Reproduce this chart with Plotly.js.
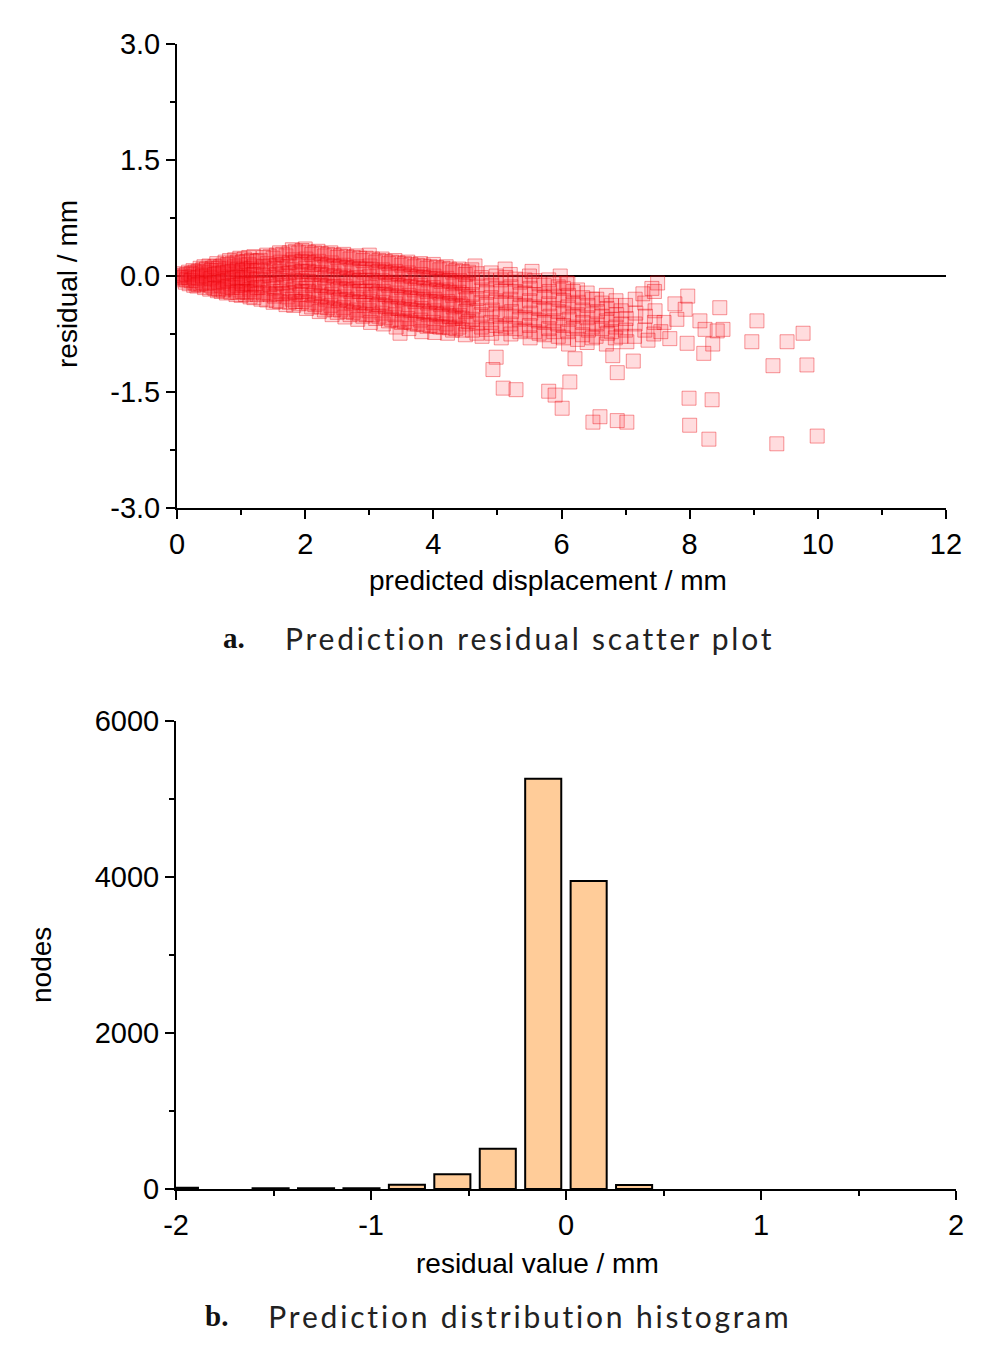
<!DOCTYPE html>
<html>
<head>
<meta charset="utf-8">
<script src="https://cdn.plot.ly/plotly-3.0.1.min.js"></script>
<style>
  body { margin: 0; background: #fff; }
  #chart { width: 994px; height: 1355px; }
  /* the printed captions are set with wide tracking */
  g.annotation[data-index="1"] text, g.annotation[data-index="3"] text { letter-spacing: 2.8px; }
</style>
</head>
<body>
<div id="chart"></div>
<script>
// (a) residual scatter, points as [predicted, residual]
var originCloud = [
  [0.02,0.0],[0.03,-0.03],[0.08,0.03],[0.08,-0.05],[0.12,-0.01],[0.13,-0.08],[0.18,0.05],[0.18,-0.02],
  [0.19,-0.1],[0.25,0.07],[0.25,0.0],[0.26,-0.12],[0.3,0.03],[0.3,-0.06],[0.31,-0.13],[0.36,0.1],
  [0.36,0.02],[0.37,-0.1],[0.42,0.12],[0.42,0.05],[0.43,-0.04],[0.43,-0.15],[0.5,0.13],[0.5,0.04],
  [0.51,-0.08],[0.51,-0.17],[0.55,0.1],[0.56,-0.02],[0.56,-0.14],[0.62,0.16],[0.62,0.07],[0.63,-0.05],
  [0.63,-0.19],[0.68,0.12],[0.68,0.0],[0.69,-0.12],[0.69,-0.2],[0.75,0.18],[0.75,0.08],[0.76,-0.03],
  [0.76,-0.16],[0.77,-0.22],[0.82,0.2],[0.82,0.1],[0.83,-0.01],[0.83,-0.1],[0.84,-0.21],[0.9,0.21],
  [0.9,0.12],[0.91,0.02],[0.91,-0.08],[0.92,-0.18],[0.92,-0.24],[0.98,0.23],[0.98,0.14],[0.99,0.04],
  [0.99,-0.06],[1.0,-0.15],[1.0,-0.25],[1.05,0.22],[1.05,0.1],[1.06,-0.02],[1.06,-0.12],[1.07,-0.24],
  [1.12,0.24],[1.12,0.15],[1.13,0.05],[1.13,-0.05],[1.14,-0.17],[1.14,-0.27]
];

var originFill = [
  [0.05,0.01],[0.05,-0.02],[0.15,0.02],[0.15,-0.05],[0.22,0.03],[0.22,-0.06],[0.28,0.05],[0.28,-0.03],
  [0.28,-0.09],[0.33,0.06],[0.33,-0.02],[0.33,-0.11],[0.4,0.08],[0.4,0.0],[0.4,-0.08],[0.46,0.09],
  [0.46,0.0],[0.46,-0.1],[0.53,0.07],[0.53,-0.03],[0.53,-0.12],[0.59,0.12],[0.59,0.02],[0.59,-0.09],
  [0.59,-0.16],[0.65,0.1],[0.65,0.03],[0.65,-0.08],[0.65,-0.17],[0.72,0.14],[0.72,0.04],[0.72,-0.07],
  [0.72,-0.18],[0.79,0.15],[0.79,0.05],[0.79,-0.06],[0.79,-0.14],[0.86,0.16],[0.86,0.06],[0.86,-0.04],
  [0.86,-0.15],[0.94,0.18],[0.94,0.08],[0.94,-0.02],[0.94,-0.12],[0.94,-0.21],[1.02,0.18],[1.02,0.07],
  [1.02,-0.04],[1.02,-0.1],[1.02,-0.2],[1.09,0.19],[1.09,0.08],[1.09,-0.02],[1.09,-0.1],[1.09,-0.21],
  [1.16,0.2],[1.16,0.1],[1.16,0.0],[1.16,-0.11],[1.16,-0.22]
];

var mainBand = [
  [1.2,0.25],[1.21,0.13],[1.2,0.02],[1.22,-0.1],[1.21,-0.2],[1.2,-0.28],
  [1.3,0.2],[1.31,0.08],[1.3,-0.04],[1.32,-0.15],[1.31,-0.3],
  [1.4,0.27],[1.41,0.16],[1.4,0.04],[1.42,-0.08],[1.41,-0.22],[1.4,-0.31],
  [1.5,0.23],[1.52,0.1],[1.5,-0.02],[1.51,-0.14],[1.52,-0.26],[1.5,-0.34],
  [1.6,0.3],[1.61,0.18],[1.6,0.06],[1.62,-0.06],[1.61,-0.2],[1.6,-0.33],
  [1.7,0.26],[1.72,0.12],[1.7,0.0],[1.71,-0.12],[1.72,-0.27],[1.7,-0.37],
  [1.8,0.34],[1.81,0.21],[1.8,0.08],[1.82,-0.05],[1.81,-0.18],[1.8,-0.3],[1.82,-0.38],
  [1.9,0.3],[1.92,0.15],[1.9,0.02],[1.91,-0.1],[1.92,-0.24],[1.9,-0.36],
  [2.0,0.35],[2.01,0.22],[2.0,0.1],[2.02,-0.03],[2.01,-0.16],[2.0,-0.3],[2.02,-0.42],
  [2.1,0.28],[2.12,0.15],[2.1,0.02],[2.11,-0.12],[2.12,-0.25],[2.1,-0.4],
  [2.2,0.32],[2.21,0.19],[2.2,0.05],[2.22,-0.08],[2.21,-0.21],[2.2,-0.35],[2.22,-0.46],
  [2.3,0.26],[2.32,0.12],[2.3,-0.02],[2.31,-0.15],[2.32,-0.3],[2.3,-0.44],
  [2.4,0.3],[2.41,0.17],[2.4,0.04],[2.42,-0.1],[2.41,-0.24],[2.4,-0.38],[2.42,-0.5],
  [2.5,0.24],[2.52,0.1],[2.5,-0.04],[2.51,-0.18],[2.52,-0.32],[2.5,-0.47],
  [2.6,0.28],[2.61,0.14],[2.6,0.0],[2.62,-0.13],[2.61,-0.27],[2.6,-0.41],[2.62,-0.53],
  [2.7,0.22],[2.72,0.08],[2.7,-0.06],[2.71,-0.2],[2.72,-0.35],[2.7,-0.5],
  [2.8,0.26],[2.81,0.12],[2.8,-0.02],[2.82,-0.16],[2.81,-0.3],[2.8,-0.44],[2.82,-0.56],
  [2.9,0.2],[2.92,0.05],[2.9,-0.1],[2.91,-0.24],[2.92,-0.38],[2.9,-0.52],
  [3.0,0.27],[3.01,0.13],[3.0,-0.01],[3.02,-0.15],[3.01,-0.3],[3.0,-0.45],[3.02,-0.6],
  [3.1,0.18],[3.12,0.04],[3.1,-0.1],[3.11,-0.24],[3.12,-0.39],[3.1,-0.55],
  [3.2,0.22],[3.21,0.08],[3.2,-0.06],[3.22,-0.2],[3.21,-0.34],[3.2,-0.48],[3.22,-0.62],
  [3.3,0.16],[3.32,0.02],[3.3,-0.12],[3.31,-0.27],[3.32,-0.42],[3.3,-0.58],
  [3.4,0.2],[3.41,0.06],[3.4,-0.08],[3.42,-0.22],[3.41,-0.36],[3.4,-0.5],[3.42,-0.66],
  [3.5,0.14],[3.52,0.0],[3.5,-0.15],[3.51,-0.3],[3.52,-0.45],[3.5,-0.6],[3.48,-0.74],
  [3.6,0.18],[3.61,0.04],[3.6,-0.1],[3.62,-0.25],[3.61,-0.4],[3.6,-0.55],[3.62,-0.68],
  [3.7,0.12],[3.72,-0.03],[3.7,-0.18],[3.71,-0.33],[3.72,-0.48],[3.7,-0.62],
  [3.8,0.16],[3.81,0.02],[3.8,-0.12],[3.82,-0.27],[3.81,-0.42],[3.8,-0.57],[3.82,-0.72],
  [3.9,0.1],[3.92,-0.05],[3.9,-0.2],[3.91,-0.35],[3.92,-0.5],[3.9,-0.65],
  [4.0,0.15],[4.01,0.0],[4.0,-0.15],[4.02,-0.3],[4.01,-0.45],[4.0,-0.6],[4.02,-0.73],
  [4.1,0.08],[4.12,-0.07],[4.1,-0.22],[4.11,-0.37],[4.12,-0.52],[4.1,-0.66],
  [4.2,0.12],[4.21,-0.03],[4.2,-0.18],[4.22,-0.33],[4.21,-0.48],[4.2,-0.62],[4.22,-0.74],
  [4.3,0.05],[4.32,-0.1],[4.3,-0.25],[4.31,-0.4],[4.32,-0.55],[4.3,-0.7],
  [4.4,0.09],[4.41,-0.06],[4.4,-0.21],[4.42,-0.36],[4.41,-0.51],[4.4,-0.66]
];

var bandFill = [
  [1.25,0.19],[1.25,0.07],[1.25,-0.04],[1.25,-0.15],[1.25,-0.24],
  [1.35,0.24],[1.35,0.12],[1.35,0.0],[1.35,-0.1],[1.35,-0.22],
  [1.45,0.25],[1.45,0.13],[1.45,0.01],[1.45,-0.11],[1.45,-0.24],
  [1.55,0.27],[1.55,0.14],[1.55,0.02],[1.55,-0.1],[1.55,-0.23],[1.55,-0.32],
  [1.65,0.28],[1.65,0.15],[1.65,0.03],[1.65,-0.09],[1.65,-0.23],
  [1.75,0.3],[1.75,0.17],[1.75,0.04],[1.75,-0.08],[1.75,-0.22],[1.75,-0.34],
  [1.85,0.32],[1.85,0.18],[1.85,0.05],[1.85,-0.07],[1.85,-0.21],[1.85,-0.33],
  [1.95,0.33],[1.95,0.19],[1.95,0.06],[1.95,-0.06],[1.95,-0.2],[1.95,-0.33],
  [2.05,0.31],[2.05,0.18],[2.05,0.06],[2.05,-0.07],[2.05,-0.2],[2.05,-0.35],
  [2.15,0.3],[2.15,0.17],[2.15,0.04],[2.15,-0.1],[2.15,-0.23],[2.15,-0.37],
  [2.25,0.29],[2.25,0.15],[2.25,0.02],[2.25,-0.12],[2.25,-0.26],[2.25,-0.4],
  [2.35,0.28],[2.35,0.14],[2.35,0.01],[2.35,-0.13],[2.35,-0.27],[2.35,-0.41],
  [2.45,0.27],[2.45,0.13],[2.45,0.0],[2.45,-0.14],[2.45,-0.28],[2.45,-0.43],
  [2.55,0.26],[2.55,0.12],[2.55,-0.02],[2.55,-0.16],[2.55,-0.3],[2.55,-0.44],
  [2.65,0.25],[2.65,0.11],[2.65,-0.03],[2.65,-0.17],[2.65,-0.31],[2.65,-0.46],
  [2.75,0.24],[2.75,0.1],[2.75,-0.04],[2.75,-0.18],[2.75,-0.33],[2.75,-0.47],
  [2.85,0.23],[2.85,0.09],[2.85,-0.06],[2.85,-0.2],[2.85,-0.34],[2.85,-0.49],
  [2.95,0.23],[2.95,0.09],[2.95,-0.06],[2.95,-0.2],[2.95,-0.35],[2.95,-0.5],
  [3.05,0.22],[3.05,0.08],[3.05,-0.06],[3.05,-0.2],[3.05,-0.35],[3.05,-0.5],
  [3.15,0.2],[3.15,0.06],[3.15,-0.08],[3.15,-0.22],[3.15,-0.37],[3.15,-0.52],
  [3.25,0.19],[3.25,0.05],[3.25,-0.09],[3.25,-0.24],[3.25,-0.39],[3.25,-0.54],
  [3.35,0.18],[3.35,0.04],[3.35,-0.1],[3.35,-0.25],[3.35,-0.4],[3.35,-0.56],
  [3.45,0.17],[3.45,0.03],[3.45,-0.12],[3.45,-0.27],[3.45,-0.42],[3.45,-0.58],
  [3.55,0.16],[3.55,0.02],[3.55,-0.13],[3.55,-0.28],[3.55,-0.43],[3.55,-0.59],
  [3.65,0.15],[3.65,0.0],[3.65,-0.14],[3.65,-0.29],[3.65,-0.44],[3.65,-0.6],
  [3.75,0.14],[3.75,-0.01],[3.75,-0.15],[3.75,-0.3],[3.75,-0.45],[3.75,-0.62],
  [3.85,0.13],[3.85,-0.02],[3.85,-0.16],[3.85,-0.31],[3.85,-0.46],[3.85,-0.63],
  [3.95,0.12],[3.95,-0.03],[3.95,-0.18],[3.95,-0.33],[3.95,-0.48],[3.95,-0.64],
  [4.05,0.11],[4.05,-0.04],[4.05,-0.19],[4.05,-0.34],[4.05,-0.49],[4.05,-0.65],
  [4.15,0.1],[4.15,-0.05],[4.15,-0.2],[4.15,-0.35],[4.15,-0.5],[4.15,-0.66],
  [4.25,0.09],[4.25,-0.06],[4.25,-0.21],[4.25,-0.36],[4.25,-0.52],[4.25,-0.67],
  [4.35,0.07],[4.35,-0.08],[4.35,-0.23],[4.35,-0.38],[4.35,-0.53],[4.35,-0.68],
  [4.45,0.06],[4.45,-0.09],[4.45,-0.24],[4.45,-0.39],[4.45,-0.55],[4.45,-0.7]
];

var tailBand = [
  [4.5,0.02],[4.5,-0.14],[4.52,-0.3],[4.5,-0.46],[4.51,-0.62],[4.5,-0.76],
  [4.6,0.08],[4.61,-0.08],[4.6,-0.24],[4.62,-0.4],[4.6,-0.56],[4.61,-0.7],
  [4.75,-0.02],[4.76,-0.18],[4.75,-0.34],[4.74,-0.5],[4.75,-0.66],[4.76,-0.78],
  [4.9,0.04],[4.91,-0.12],[4.9,-0.28],[4.92,-0.44],[4.9,-0.6],[4.91,-0.74],
  [5.05,-0.05],[5.06,-0.2],[5.05,-0.36],[5.04,-0.52],[5.05,-0.68],[5.06,-0.8],
  [5.2,0.02],[5.21,-0.14],[5.2,-0.3],[5.22,-0.46],[5.2,-0.62],[5.21,-0.75],
  [5.35,-0.08],[5.36,-0.24],[5.35,-0.4],[5.34,-0.56],[5.35,-0.72],
  [5.5,0.0],[5.51,-0.16],[5.5,-0.32],[5.52,-0.48],[5.5,-0.64],[5.51,-0.8],
  [5.65,-0.1],[5.66,-0.26],[5.65,-0.42],[5.64,-0.58],[5.65,-0.74],
  [5.8,-0.05],[5.81,-0.2],[5.8,-0.36],[5.82,-0.52],[5.8,-0.68],[5.81,-0.84],
  [5.95,-0.14],[5.96,-0.3],[5.95,-0.46],[5.94,-0.62],[5.95,-0.78],
  [6.1,-0.1],[6.11,-0.25],[6.1,-0.4],[6.12,-0.56],[6.1,-0.72],[6.11,-0.88],
  [6.25,-0.18],[6.26,-0.34],[6.25,-0.5],[6.24,-0.66],[6.25,-0.82],
  [6.4,-0.22],[6.41,-0.38],[6.4,-0.54],[6.42,-0.7],[6.4,-0.86],
  [6.55,-0.3],[6.56,-0.46],[6.55,-0.62],[6.54,-0.78],
  [6.7,-0.25],[6.71,-0.42],[6.7,-0.58],[6.72,-0.74],[6.7,-0.88],
  [6.85,-0.32],[6.86,-0.5],[6.85,-0.66],[6.84,-0.8],
  [7.0,-0.38],[7.01,-0.55],[7.0,-0.7],[7.02,-0.85],
  [7.15,-0.3],[7.16,-0.48],[7.15,-0.62],[7.14,-0.78],
  [7.3,-0.35],[7.31,-0.52],[7.3,-0.7],
  [7.45,-0.2],[7.46,-0.45],[7.45,-0.6],[7.44,-0.75]
];

var tailFill = [
  [4.55,0.05],[4.55,-0.11],[4.55,-0.27],[4.55,-0.43],[4.55,-0.59],
  [4.68,0.03],[4.68,-0.13],[4.68,-0.29],[4.68,-0.45],[4.68,-0.61],[4.68,-0.74],
  [4.83,-0.05],[4.83,-0.21],[4.83,-0.37],[4.83,-0.53],[4.83,-0.69],
  [4.98,0.0],[4.98,-0.16],[4.98,-0.32],[4.98,-0.48],[4.98,-0.64],
  [5.13,-0.02],[5.13,-0.18],[5.13,-0.34],[5.13,-0.5],[5.13,-0.66],
  [5.28,-0.04],[5.28,-0.2],[5.28,-0.36],[5.28,-0.52],[5.28,-0.68],
  [5.43,-0.05],[5.43,-0.22],[5.43,-0.38],[5.43,-0.54],[5.43,-0.7],
  [5.58,-0.06],[5.58,-0.24],[5.58,-0.4],[5.58,-0.56],[5.58,-0.72],
  [5.73,-0.12],[5.73,-0.28],[5.73,-0.44],[5.73,-0.6],[5.73,-0.76],
  [5.88,-0.1],[5.88,-0.26],[5.88,-0.42],[5.88,-0.58],[5.88,-0.72],
  [6.03,-0.16],[6.03,-0.32],[6.03,-0.48],[6.03,-0.64],[6.03,-0.8],
  [6.18,-0.2],[6.18,-0.36],[6.18,-0.52],[6.18,-0.68],
  [6.33,-0.28],[6.33,-0.44],[6.33,-0.6],[6.33,-0.76],
  [6.48,-0.3],[6.48,-0.5],[6.48,-0.66],[6.48,-0.8],
  [6.63,-0.35],[6.63,-0.52],[6.63,-0.68],
  [6.78,-0.38],[6.78,-0.56],[6.78,-0.72],
  [6.93,-0.45],[6.93,-0.62],[6.93,-0.78]
];

var sparsePoints = [
  [7.5,-0.09],[7.41,-0.16],[7.27,-0.23],[7.69,-0.81],[7.96,-0.87],[7.77,-0.36],[7.93,-0.43],[7.8,-0.56],
  [7.97,-0.26],[8.16,-0.58],[8.24,-0.69],[8.43,-0.71],[8.47,-0.41],[8.52,-0.69],[8.36,-0.88],[8.22,-1.0],
  [8.97,-0.85],[9.05,-0.58],[9.52,-0.85],[9.77,-0.74],[9.3,-1.16],[9.83,-1.15],[5.98,0.0],[6.08,-0.09],
  [5.12,0.09],[5.54,0.06],[4.65,0.13],[7.6,-0.6],[7.55,-0.72],[7.35,-0.83]
];

var outliers = [
  [4.98,-1.05],[4.93,-1.21],[5.09,-1.45],[5.29,-1.47],[5.8,-1.49],[5.9,-1.54],[6.01,-1.71],[6.13,-1.37],
  [6.21,-1.07],[6.49,-1.89],[6.6,-1.82],[6.87,-1.87],[7.02,-1.89],[6.87,-1.25],[7.12,-1.1],[6.8,-1.03],
  [7.99,-1.58],[8.35,-1.6],[8.0,-1.93],[8.3,-2.11],[9.36,-2.17],[9.99,-2.07]
];

// (b) histogram of residuals
var binCenters = [-1.98, -1.515, -1.282, -1.049, -0.816, -0.583, -0.35, -0.117, 0.116, 0.349];
var nodeCounts = [15, 10, 10, 10, 55, 190, 515, 5260, 3950, 50];

var scatterTicks = [0, 2, 4, 6, 8, 10, 12];
var residualTicks = [3, 1.5, 0, -1.5, -3];
var residualLabels = ['3.0', '1.5', '0.0', '-1.5', '-3.0'];
var histTicks = [-2, -1, 0, 1, 2];
var histLabels = ['-2', '-1', '0', '1', '2'];
var nodeTicks = [0, 2000, 4000, 6000];

var allPoints = originCloud.concat(originFill, mainBand, bandFill, tailBand, tailFill, sparsePoints, outliers);

var numFont = 'Liberation Sans, Arial, sans-serif';
var tickFont = {family: numFont, size: 29, color: '#000'};
var titleFont = {family: numFont, size: 28, color: '#000'};

var scatterTrace = {
    x: allPoints.map(function (p) { return p[0]; }),
    y: allPoints.map(function (p) { return p[1]; }),
    xaxis: 'x',
    yaxis: 'y',
    type: 'scatter',
    mode: 'markers',
    marker: {
        symbol: 'square',
        size: 14,
        color: 'rgba(255, 50, 60, 0.17)',
        line: {color: 'rgba(235, 0, 10, 0.4)', width: 1}
    },
    hoverinfo: 'skip'
};

var histTrace = {
    x: binCenters,
    y: nodeCounts,
    xaxis: 'x2',
    yaxis: 'y2',
    type: 'bar',
    width: 0.185,
    marker: {color: 'rgb(255, 204, 153)', line: {color: '#000', width: 2}},
    hoverinfo: 'skip'
};

function axisStyle(extra) {
    var base = {
        showgrid: false,
        showline: true,
        linecolor: '#000',
        linewidth: 2,
        ticks: 'outside',
        ticklen: 9,
        tickwidth: 2,
        tickcolor: '#000',
        tickfont: tickFont,
        zeroline: false
    };
    for (var k in extra) base[k] = extra[k];
    return base;
}

function paperText(text, px, py, font, opts) {
    var a = {xref: 'paper', yref: 'paper', x: px / 994, y: 1 - py / 1355,
             xanchor: 'center', yanchor: 'middle', text: text, showarrow: false, font: font};
    for (var k in opts) a[k] = opts[k];
    return a;
}

var boldSerif = {family: 'Liberation Serif, serif', size: 29, color: '#111'};
var captionFont = {family: 'Lato, sans-serif', size: 30, color: '#222'};

var layout = {
    width: 994,
    height: 1355,
    margin: {l: 0, r: 0, t: 0, b: 0},
    paper_bgcolor: '#fff',
    plot_bgcolor: 'rgba(0,0,0,0)',
    showlegend: false,
    xaxis: axisStyle({
        domain: [0.1781, 0.9517], anchor: 'y', range: [0, 12],
        tickvals: scatterTicks, ticktext: scatterTicks.map(String),
        minor: {ticks: 'outside', ticklen: 5, tickwidth: 2, tickcolor: '#000', dtick: 1}
    }),
    yaxis: axisStyle({
        domain: [0.6251, 0.9675], anchor: 'x', range: [-3, 3],
        tickvals: residualTicks, ticktext: residualLabels,
        minor: {ticks: 'outside', ticklen: 5, tickwidth: 2, tickcolor: '#000', dtick: 0.75},
        zeroline: true, zerolinecolor: '#000', zerolinewidth: 2
    }),
    xaxis2: axisStyle({
        domain: [0.1771, 0.9618], anchor: 'y2', range: [-2, 2],
        tickvals: histTicks, ticktext: histLabels,
        minor: {ticks: 'outside', ticklen: 5, tickwidth: 2, tickcolor: '#000', dtick: 0.5}
    }),
    yaxis2: axisStyle({
        domain: [0.1225, 0.4679], anchor: 'x2', range: [0, 6000],
        tickvals: nodeTicks, ticktext: nodeTicks.map(String),
        minor: {ticks: 'outside', ticklen: 5, tickwidth: 2, tickcolor: '#000', dtick: 1000}
    }),
    annotations: [
        paperText('<b>a.</b>', 234, 638, boldSerif),
        paperText('Prediction residual scatter plot', 530, 638, captionFont),
        paperText('<b>b.</b>', 216, 1316, boldSerif),
        paperText('Prediction distribution histogram', 530, 1316, captionFont),
        paperText('predicted displacement / mm', 548, 580, titleFont),
        paperText('residual / mm', 67, 284, titleFont, {textangle: -90}),
        paperText('residual value / mm', 537, 1263, titleFont),
        paperText('nodes', 41, 965, titleFont, {textangle: -90})
    ]
};

Plotly.newPlot('chart', [scatterTrace, histTrace], layout, {staticPlot: true});
</script>
</body>
</html>
